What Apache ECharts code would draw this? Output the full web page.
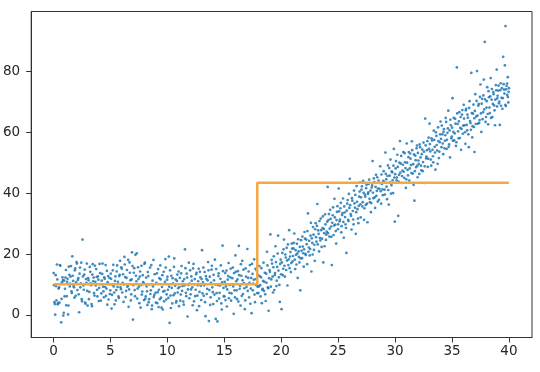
<!DOCTYPE html>
<html><head><meta charset="utf-8">
<script src="https://cdn.jsdelivr.net/npm/echarts@6/dist/echarts.min.js"></script>
<style>html,body{margin:0;padding:0;background:#fff}#c{width:540px;height:372px}</style>
</head><body><div id="c"></div>
<script>
const xTicks = [0,5,10,15,20,25,30,35,40];
const yTicks = [0,20,40,60,80];
const stepX = [0, 17.9, 40];
const stepY = [10.1, 43.5, 43.5];
const points = [
[0.02,13.8],[0.08,4.2],[0.15,0.1],[0.22,9.5],[0.3,16.6],[0.37,3.5],[0.45,8.7],[0.52,4.1],[0.6,16.2],[0.68,-2.4],[0.75,10.8],[0.83,11.5],[0.9,0.7],[0.97,6.1],
[1.05,12.3],[1.12,3.2],[1.2,10.9],[1.28,0.2],[1.35,15.9],[1.43,9.4],[1.5,12.6],[1.58,7.8],[1.65,19.3],[1.73,11.2],[1.8,9.1],[1.88,14.7],[1.95,6.3],
[2.03,17.4],[2.1,8.2],[2.18,12.1],[2.25,0.9],[2.33,15.6],[2.4,10.4],[2.48,5.2],[2.55,24.8],[2.63,9.7],[2.7,13.3],[2.78,4.1],[2.85,11.8],[2.93,16.9],
[3.0,3.1],[3.08,11.4],[3.15,7.6],[3.23,14.2],[3.3,9.8],[3.38,2.9],[3.45,16.7],[3.53,12.3],[3.6,6.4],[3.68,10.9],[3.75,15.1],[3.83,8.3],[3.9,12.7],[3.98,4.6],
[4.05,16.8],[4.13,10.2],[4.2,7.1],[4.28,13.5],[4.35,9.3],[4.43,5.8],[4.5,11.9],[4.58,16.4],[4.65,8.7],[4.73,3.4],[4.8,12.8],[4.88,10.1],[4.95,6.9],
[5.03,13.6],[5.1,2.1],[5.18,9.9],[5.25,16.5],[5.33,7.4],[5.4,11.2],[5.48,4.8],[5.55,14.3],[5.63,9.2],[5.7,6.1],[5.78,12.8],[5.85,17.8],[5.93,8.5],
[6.0,15.2],[6.08,10.6],[6.15,4.3],[6.23,19.1],[6.3,12.5],[6.38,7.9],[6.45,14.8],[6.53,9.6],[6.6,2.7],[6.68,17.3],[6.75,11.4],[6.83,6.8],[6.9,20.6],[6.98,-1.5],
[7.05,13.9],[7.13,8.2],[7.2,19.8],[7.28,11.1],[7.35,5.4],[7.43,15.7],[7.5,9.3],[7.58,12.6],[7.65,2.4],[7.73,16.2],[7.8,7.7],[7.88,10.8],[7.95,4.9],
[8.03,17.2],[8.1,6.1],[8.18,9.4],[8.25,3.3],[8.33,12.8],[8.4,5.2],[8.48,15.6],[8.55,8.1],[8.63,1.9],[8.7,11.3],[8.78,18.1],[8.85,6.6],[8.93,10.2],
[9.0,4.1],[9.08,13.7],[9.15,7.5],[9.23,2.6],[9.3,12.1],[9.38,16.3],[9.45,5.7],[9.53,9.2],[9.6,1.8],[9.68,14.2],[9.75,7.9],[9.83,18.4],[9.9,5.1],[9.98,11.6],
[10.05,8.3],[10.13,19.2],[10.2,-2.6],[10.28,6.4],[10.35,12.9],[10.43,3.8],[10.5,10.4],[10.58,15.8],[10.65,7.1],[10.73,11.7],[10.8,4.6],[10.88,13.3],[10.95,8.8],
[11.03,2.9],[11.1,12.2],[11.18,6.7],[11.25,16.1],[11.33,9.5],[11.4,4.4],[11.48,11.8],[11.55,21.6],[11.63,7.3],[11.7,13.6],[11.78,-0.5],[11.85,9.9],[11.93,5.5],
[12.0,14.7],[12.08,8.4],[12.15,11.3],[12.23,3.2],[12.3,16.8],[12.38,10.1],[12.45,6.2],[12.53,13.4],[12.6,1.6],[12.68,9.8],[12.75,15.2],[12.83,7.6],[12.9,12.4],[12.98,4.9],
[13.05,21.3],[13.13,10.7],[13.2,6.3],[13.28,14.1],[13.35,-0.4],[13.43,11.9],[13.5,8.6],[13.58,17.4],[13.65,-2.0],[13.73,12.6],[13.8,5.8],[13.88,14.9],[13.95,9.1],
[14.03,3.6],[14.1,11.4],[14.18,18.2],[14.25,-1.3],[14.33,7.2],[14.4,-2.1],[14.48,12.8],[14.55,5.4],[14.63,9.7],[14.7,16.3],[14.78,1.8],[14.85,22.8],[14.93,8.9],
[15.0,6.1],[15.08,13.8],[15.15,9.4],[15.23,2.8],[15.3,11.6],[15.38,17.1],[15.45,7.3],[15.53,12.4],[15.6,4.7],[15.68,10.2],[15.75,15.6],[15.83,0.4],[15.9,8.1],[15.98,19.6],
[16.05,11.1],[16.13,5.2],[16.2,14.4],[16.28,22.7],[16.35,8.6],[16.43,3.1],[16.5,12.9],[16.58,17.8],[16.65,6.9],[16.73,10.5],[16.8,1.9],[16.88,15.3],[16.95,9.2],
[17.03,21.7],[17.1,12.2],[17.18,5.8],[17.25,16.4],[17.33,8.7],[17.4,0.6],[17.48,13.5],[17.55,10.3],[17.63,18.3],[17.7,4.2],[17.78,11.8],[17.85,14.6],[17.93,9.3],
[18.0,7.2],[18.08,16.1],[18.15,9.8],[18.23,12.4],[18.3,3.9],[18.38,8.6],[18.45,17.2],[18.53,10.9],[18.6,6.8],[18.68,13.6],[18.75,20.8],[18.83,9.1],[18.9,1.4],[18.98,14.8],
[19.05,26.5],[19.13,11.7],[19.2,16.9],[19.28,7.4],[19.35,19.3],[19.43,13.1],[19.5,22.6],[19.58,9.5],[19.65,15.8],[19.73,26.1],[19.8,12.4],[19.88,4.3],[19.95,18.2],
[20.03,1.9],[20.1,20.4],[20.18,15.2],[20.25,24.8],[20.33,12.6],[20.4,18.9],[20.48,22.1],[20.55,9.7],[20.63,16.4],[20.7,27.9],[20.78,19.2],[20.85,14.1],[20.93,23.5],
[21.0,17.6],[21.08,21.9],[21.15,26.8],[21.23,15.1],[21.3,19.8],[21.38,23.4],[21.45,12.2],[21.53,20.9],[21.6,17.3],[21.68,8.1],[21.75,24.6],[21.83,18.7],[21.9,22.5],[21.98,15.9],
[22.05,27.3],[22.13,20.1],[22.2,24.8],[22.28,16.7],[22.35,33.4],[22.43,22.2],[22.5,19.6],[22.58,26.1],[22.65,14.3],[22.73,23.7],[22.8,28.9],[22.88,21.4],[22.95,17.8],
[23.03,30.2],[23.1,24.1],[23.18,36.5],[23.25,27.8],[23.33,20.9],[23.4,25.3],[23.48,31.7],[23.55,22.4],[23.63,28.6],[23.7,17.3],[23.78,26.9],[23.85,33.1],[23.93,24.7],
[24.0,27.4],[24.08,42.1],[24.15,31.2],[24.23,25.8],[24.3,34.6],[24.38,29.1],[24.45,16.4],[24.53,32.8],[24.6,26.3],[24.68,38.2],[24.75,29.7],[24.83,23.5],[24.9,33.9],[24.98,28.2],
[25.05,41.6],[25.13,30.8],[25.2,35.1],[25.28,27.2],[25.35,32.9],[25.43,38.3],[25.5,25.4],[25.58,33.7],[25.65,29.8],[25.73,20.4],[25.8,36.6],[25.88,31.3],[25.95,39.8],
[26.03,44.8],[26.1,33.2],[26.18,28.1],[26.25,37.6],[26.33,31.4],[26.4,40.9],[26.48,35.3],[26.55,26.7],[26.63,42.4],[26.7,34.8],[26.78,30.2],[26.85,38.9],[26.93,43.6],[26.98,32.1],
[27.05,41.2],[27.13,35.7],[27.2,44.1],[27.28,31.3],[27.35,39.6],[27.43,36.2],[27.5,42.8],[27.58,30.5],[27.65,40.3],[27.73,44.5],[27.8,37.1],[27.88,33.8],[27.95,41.9],
[28.03,50.6],[28.1,38.4],[28.18,43.7],[28.25,35.2],[28.33,46.1],[28.4,40.8],[28.48,37.3],[28.55,44.2],[28.63,41.5],[28.7,48.9],[28.78,36.6],[28.85,43.1],[28.93,39.4],
[29.0,47.3],[29.08,41.2],[29.15,53.4],[29.23,44.6],[29.3,38.1],[29.38,49.2],[29.45,36.3],[29.53,45.8],[29.6,51.1],[29.68,42.7],[29.75,46.9],[29.83,40.1],[29.9,54.6],[29.98,30.7],
[30.05,48.2],[30.13,44.3],[30.2,52.7],[30.28,32.6],[30.35,46.1],[30.43,57.2],[30.5,49.8],[30.58,43.4],[30.65,47.5],[30.73,53.6],[30.8,45.1],[30.88,50.2],[30.95,41.8],
[31.03,56.4],[31.1,47.7],[31.18,51.9],[31.25,44.2],[31.33,53.1],[31.4,49.3],[31.48,57.1],[31.55,46.5],[31.63,42.8],[31.7,37.6],[31.78,52.4],[31.85,48.6],[31.93,55.7],[31.98,45.3],
[32.05,50.8],[32.13,46.4],[32.2,55.2],[32.28,49.1],[32.35,52.9],[32.43,47.3],[32.5,56.7],[32.58,43.4],[32.65,64.6],[32.73,51.5],[32.8,54.2],[32.88,48.7],[32.95,58.3],
[33.03,62.9],[33.1,53.8],[33.18,49.1],[33.25,57.4],[33.33,52.2],[33.4,60.6],[33.48,55.3],[33.55,47.8],[33.63,58.9],[33.7,54.1],[33.78,61.7],[33.85,51.6],[33.93,56.8],
[34.0,63.6],[34.08,55.2],[34.15,59.4],[34.23,52.9],[34.3,61.1],[34.38,57.3],[34.45,64.8],[34.53,54.6],[34.6,59.9],[34.68,67.2],[34.75,56.1],[34.83,51.8],[34.9,62.4],[34.98,58.7],
[35.05,71.3],[35.13,60.2],[35.2,57.4],[35.28,64.5],[35.35,55.6],[35.43,81.4],[35.5,62.8],[35.58,58.1],[35.65,66.7],[35.73,61.5],[35.8,54.3],[35.88,65.9],[35.95,59.6],
[36.03,69.1],[36.1,62.4],[36.18,56.3],[36.25,67.8],[36.33,60.7],[36.4,64.9],[36.48,55.2],[36.55,70.3],[36.63,63.1],[36.7,79.6],[36.78,58.4],[36.85,66.2],[36.93,61.8],[36.98,53.6],
[37.05,72.6],[37.13,65.3],[37.2,80.2],[37.28,62.9],[37.35,69.4],[37.43,64.1],[37.5,75.8],[37.58,60.2],[37.65,71.1],[37.73,66.7],[37.8,77.4],[37.88,89.8],[37.95,63.5],
[38.03,68.2],[38.1,74.9],[38.18,62.7],[38.25,71.6],[38.33,66.4],[38.4,77.9],[38.48,70.8],[38.55,65.1],[38.63,73.3],[38.7,68.9],[38.78,62.4],[38.85,75.6],[38.93,80.7],[38.98,71.2],
[39.05,73.8],[39.13,69.6],[39.2,62.5],[39.28,76.2],[39.35,71.4],[39.43,67.8],[39.5,84.9],[39.58,74.1],[39.65,82.1],[39.7,95.0],[39.73,68.7],[39.8,75.3],[39.85,72.4],[39.9,78.2],[39.95,69.9],[40.0,74.6]
];
const points2 = [
[0.05,9.8],[0.12,3.6],[0.19,13.1],[0.26,4.8],[0.34,11.7],[0.41,3.9],[0.49,9.1],[0.56,16.4],[0.64,10.2],[0.71,5.3],[0.79,12.4],[0.86,-0.2],[0.94,11.3],
[1.01,8.6],[1.09,14.8],[1.16,6.2],[1.24,11.9],[1.31,3.1],[1.39,13.2],[1.46,10.3],[1.54,16.1],[1.61,7.2],[1.69,12.9],[1.76,9.6],[1.84,5.7],[1.91,15.3],[1.99,10.7],
[2.06,16.9],[2.14,11.5],[2.21,6.8],[2.29,13.6],[2.36,9.1],[2.44,17.2],[2.51,4.5],[2.59,12.7],[2.66,8.3],[2.74,14.9],[2.81,3.7],[2.89,10.6],[2.96,7.9],
[3.04,12.1],[3.11,5.2],[3.19,15.8],[3.26,10.4],[3.34,3.6],[3.41,13.3],[3.49,11.1],[3.56,7.2],[3.64,16.2],[3.71,9.7],[3.79,12.5],[3.86,6.1],[3.94,11.6],
[4.01,8.9],[4.09,13.8],[4.16,4.7],[4.24,11.3],[4.31,16.9],[4.39,7.8],[4.46,12.4],[4.54,9.2],[4.61,6.3],[4.69,14.5],[4.76,10.8],[4.84,5.1],[4.91,12.2],[4.99,8.1],
[5.06,11.9],[5.14,6.6],[5.21,14.7],[5.29,9.4],[5.36,3.5],[5.44,12.7],[5.51,8.2],[5.59,16.3],[5.66,10.9],[5.74,5.6],[5.81,13.2],[5.89,9.1],[5.96,15.7],
[6.04,7.4],[6.11,13.4],[6.19,10.1],[6.26,16.6],[6.34,5.9],[6.41,12.2],[6.49,9.3],[6.56,18.1],[6.64,8.4],[6.71,13.9],[6.79,4.8],[6.86,11.7],[6.94,16.1],
[7.01,9.8],[7.09,15.4],[7.16,6.2],[7.24,12.9],[7.31,20.3],[7.39,8.7],[7.46,11.8],[7.54,3.9],[7.61,14.3],[7.69,9.9],[7.76,6.7],[7.84,13.1],[7.91,10.5],[7.99,16.8],
[8.06,5.3],[8.14,12.3],[8.21,7.8],[8.29,14.1],[8.36,4.2],[8.44,10.1],[8.51,6.9],[8.59,16.4],[8.66,3.1],[8.74,9.4],[8.81,5.9],[8.89,13.4],[8.96,7.3],
[9.04,10.6],[9.11,3.9],[9.19,15.1],[9.26,8.3],[9.34,5.2],[9.41,11.7],[9.49,2.4],[9.56,13.1],[9.64,7.7],[9.71,4.5],[9.79,10.9],[9.86,15.6],[9.94,6.8],
[10.01,12.6],[10.09,5.6],[10.16,9.3],[10.24,14.7],[10.31,2.3],[10.39,8.9],[10.46,12.1],[10.54,6.5],[10.61,18.6],[10.69,9.6],[10.76,4.1],[10.84,11.2],[10.91,7.4],[10.99,14.3],
[11.06,9.2],[11.14,4.7],[11.21,13.7],[11.29,7.9],[11.36,11.1],[11.44,3.4],[11.51,9.7],[11.59,15.4],[11.66,6.2],[11.74,12.3],[11.81,8.4],[11.89,17.2],[11.96,10.3],
[12.04,6.8],[12.11,12.7],[12.19,9.1],[12.26,15.3],[12.34,4.5],[12.41,11.8],[12.49,8.3],[12.56,13.9],[12.64,6.4],[12.71,11.1],[12.79,2.9],[12.86,14.2],[12.94,9.6],
[13.01,11.8],[13.09,7.1],[13.16,15.6],[13.24,9.7],[13.31,4.2],[13.39,12.8],[13.46,6.9],[13.54,11.4],[13.61,14.7],[13.69,8.2],[13.76,3.3],[13.84,10.6],[13.91,16.2],[13.99,7.5],
[14.06,13.2],[14.14,6.7],[14.21,10.1],[14.29,15.1],[14.36,4.6],[14.44,9.8],[14.51,13.7],[14.59,7.3],[14.66,11.9],[14.74,3.8],[14.81,10.7],[14.89,14.4],[14.96,6.2],
[15.04,10.9],[15.11,4.9],[15.19,14.6],[15.26,8.4],[15.34,12.8],[15.41,5.5],[15.49,9.9],[15.56,15.2],[15.64,7.1],[15.71,12.1],[15.79,9.4],[15.86,13.8],[15.94,5.8],
[16.01,14.2],[16.09,8.1],[16.16,11.7],[16.24,4.4],[16.31,13.1],[16.39,9.6],[16.46,16.7],[16.54,6.3],[16.61,11.4],[16.69,14.9],[16.76,8.8],[16.84,4.8],[16.91,12.6],[16.99,10.1],
[17.06,7.9],[17.14,14.3],[17.21,10.6],[17.29,3.7],[17.36,12.2],[17.44,16.8],[17.51,8.1],[17.59,11.6],[17.66,6.7],[17.74,15.2],[17.81,9.8],[17.89,7.2],[17.96,13.1],
[18.04,9.4],[18.11,12.8],[18.19,6.1],[18.26,15.4],[18.34,8.3],[18.41,11.2],[18.49,7.9],[18.56,13.9],[18.64,4.6],[18.71,10.6],[18.79,16.3],[18.86,8.8],[18.94,12.1],
[19.01,14.2],[19.09,9.3],[19.16,18.1],[19.24,12.6],[19.31,15.7],[19.39,8.2],[19.46,13.8],[19.54,17.4],[19.61,11.3],[19.69,20.2],[19.76,14.6],[19.84,9.9],[19.91,16.8],[19.99,13.4],
[20.06,17.3],[20.14,13.1],[20.21,21.6],[20.29,16.2],[20.36,19.9],[20.44,14.8],[20.51,17.9],[20.59,23.2],[20.66,18.3],[20.74,15.4],[20.81,20.7],[20.89,17.1],[20.96,21.8],
[21.04,19.4],[21.11,23.7],[21.19,18.2],[21.26,21.3],[21.34,16.6],[21.41,20.2],[21.49,24.9],[21.56,19.1],[21.64,22.4],[21.71,18.6],[21.79,21.1],[21.86,25.8],[21.94,20.3],
[22.01,21.6],[22.09,25.1],[22.16,19.7],[22.24,23.3],[22.31,27.6],[22.39,20.8],[22.46,24.4],[22.54,21.7],[22.61,30.3],[22.69,25.2],[22.76,19.9],[22.84,26.4],[22.91,23.1],[22.99,28.2],
[23.06,25.6],[23.14,29.3],[23.21,23.2],[23.29,26.7],[23.36,30.9],[23.44,24.5],[23.51,27.9],[23.59,25.1],[23.66,32.4],[23.74,28.3],[23.81,22.6],[23.89,29.8],[23.96,26.4],
[24.04,30.7],[24.11,26.9],[24.19,33.2],[24.26,28.4],[24.34,31.6],[24.41,25.7],[24.49,30.3],[24.56,35.4],[24.64,29.4],[24.71,32.1],[24.79,27.6],[24.86,31.2],[24.94,35.8],
[25.01,29.8],[25.09,34.1],[25.16,31.4],[25.24,36.9],[25.31,29.2],[25.39,33.5],[25.46,30.6],[25.54,35.7],[25.61,32.2],[25.69,28.6],[25.76,34.3],[25.84,37.8],[25.91,30.9],[25.99,35.2],
[26.06,36.1],[26.14,32.6],[26.21,38.4],[26.29,34.2],[26.36,29.8],[26.44,36.7],[26.51,39.5],[26.59,33.8],[26.66,37.2],[26.74,31.7],[26.81,35.9],[26.89,40.6],[26.96,36.4],
[27.01,38.7],[27.09,42.3],[27.16,37.1],[27.24,40.2],[27.31,35.1],[27.39,38.9],[27.46,41.7],[27.54,36.6],[27.61,39.8],[27.69,43.1],[27.76,38.2],[27.84,40.9],[27.91,36.8],[27.99,42.6],
[28.06,40.2],[28.14,44.9],[28.21,38.7],[28.29,42.1],[28.36,39.2],[28.44,45.3],[28.51,41.6],[28.59,37.9],[28.66,43.4],[28.74,40.7],[28.81,46.2],[28.89,41.3],[28.96,44.1],
[29.04,43.8],[29.11,39.6],[29.19,46.4],[29.26,42.2],[29.34,45.7],[29.41,41.1],[29.49,48.3],[29.56,43.6],[29.64,39.9],[29.71,47.2],[29.79,44.3],[29.86,49.1],[29.94,45.2],
[30.01,46.3],[30.09,50.6],[30.16,45.2],[30.24,48.7],[30.31,43.9],[30.39,50.1],[30.46,46.8],[30.54,52.3],[30.61,45.7],[30.69,49.4],[30.76,47.1],[30.84,53.2],[30.91,48.3],[30.99,44.6],
[31.06,50.1],[31.14,45.9],[31.21,53.6],[31.29,48.2],[31.36,51.4],[31.44,46.7],[31.51,54.2],[31.59,49.6],[31.66,52.8],[31.74,47.3],[31.81,50.9],[31.89,54.8],[31.96,49.1],
[32.01,53.3],[32.09,49.7],[32.16,56.1],[32.24,51.8],[32.31,47.6],[32.39,54.4],[32.46,50.3],[32.54,53.7],[32.61,48.9],[32.69,55.8],[32.76,52.1],[32.84,57.2],[32.91,51.4],[32.99,54.6],
[33.06,56.2],[33.14,51.1],[33.21,58.1],[33.29,54.3],[33.36,50.2],[33.44,57.6],[33.51,53.4],[33.59,60.1],[33.66,55.9],[33.74,49.7],[33.81,57.2],[33.89,53.7],[33.96,59.4],
[34.04,57.9],[34.11,62.3],[34.19,56.4],[34.26,60.2],[34.34,54.8],[34.41,59.1],[34.49,63.5],[34.56,57.6],[34.64,61.4],[34.71,55.3],[34.79,60.7],[34.86,64.2],[34.94,58.1],
[35.01,61.6],[35.09,57.3],[35.16,64.8],[35.24,59.7],[35.31,62.9],[35.39,56.8],[35.46,66.3],[35.54,60.4],[35.61,63.7],[35.69,58.2],[35.76,65.1],[35.84,61.2],[35.91,67.4],[35.99,62.3],
[36.06,64.6],[36.14,60.1],[36.21,67.3],[36.29,62.5],[36.36,65.9],[36.44,59.4],[36.51,68.1],[36.59,63.8],[36.66,60.9],[36.74,66.4],[36.81,62.1],[36.89,69.2],[36.96,64.7],
[37.01,67.1],[37.09,62.8],[37.16,70.4],[37.24,65.6],[37.31,68.8],[37.39,63.2],[37.46,71.7],[37.54,66.3],[37.61,69.5],[37.69,64.4],[37.76,72.2],[37.84,67.6],[37.91,70.9],[37.99,65.1],
[38.06,70.3],[38.14,66.1],[38.21,73.6],[38.29,68.2],[38.36,71.9],[38.44,64.8],[38.51,74.3],[38.59,69.4],[38.66,72.6],[38.74,67.3],[38.81,70.8],[38.89,73.9],[38.96,68.6],
[39.01,72.1],[39.09,75.4],[39.16,70.2],[39.24,73.9],[39.31,68.8],[39.39,74.6],[39.46,71.3],[39.54,75.9],[39.61,72.8],[39.69,69.1],[39.76,74.2],[39.84,76.1],[39.91,71.7],[39.98,73.4]
];

const chart = echarts.init(document.getElementById('c'), null, {renderer:'canvas'});
const labelStyle = {color:'#262626', fontSize:13.5, fontFamily:'DejaVu Sans'};
chart.setOption({
  animation:false,
  backgroundColor:'#fff',
  grid:{left:31, right:8, top:11.5, bottom:34.5, show:true, borderColor:'#333', borderWidth:1},
  xAxis:{type:'value', min:-1.96, max:42.03, splitLine:{show:false},
    axisLine:{show:true, onZero:false, lineStyle:{color:'#333'}},
    axisTick:{show:true, length:5, customValues:xTicks, lineStyle:{color:'#333'}},
    axisLabel:Object.assign({margin:6.5, customValues:xTicks}, labelStyle)},
  yAxis:{type:'value', min:-7.4, max:99.8, splitLine:{show:false},
    axisLine:{show:true, onZero:false, lineStyle:{color:'#333'}},
    axisTick:{show:true, length:5, customValues:yTicks, lineStyle:{color:'#333'}},
    axisLabel:Object.assign({margin:11, customValues:yTicks}, labelStyle)},
  series:[
    {type:'scatter', data:points.concat(points2), symbol:'circle', symbolSize:2.7,
     itemStyle:{color:'#1f77b4', opacity:0.85}, z:2},
    {type:'line', data:stepX.map((x,i)=>[x, stepY[i]]), step:'end', showSymbol:false,
     lineStyle:{color:'#f5a742', width:2.5}, z:3}
  ]
});
</script></body></html>
